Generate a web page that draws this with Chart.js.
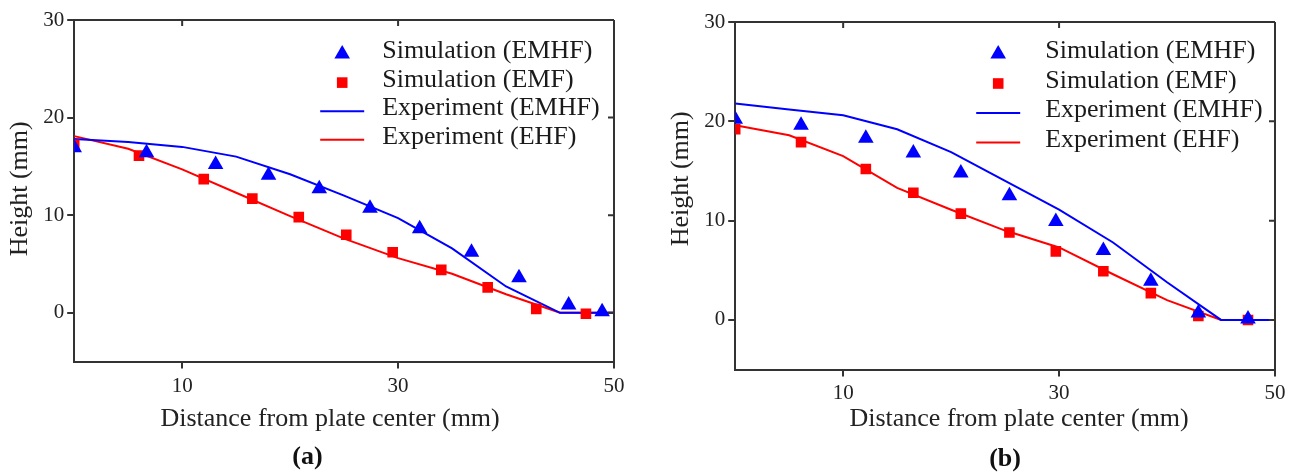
<!DOCTYPE html>
<html>
<head>
<meta charset="utf-8">
<script src="https://cdn.jsdelivr.net/npm/chart.js@4/dist/chart.umd.min.js"></script>
<style>
  body { margin: 0; background: #fff; }
  #boxA { position: absolute; left: 0; top: 0; width: 650px; height: 475px; }
  #boxB { position: absolute; left: 650px; top: 0; width: 649px; height: 475px; }
</style>
</head>
<body>
<div id="boxA"><canvas id="chartA" width="650" height="475"></canvas></div>
<div id="boxB"><canvas id="chartB" width="649" height="475"></canvas></div>
<script>
// tick labels
const xTicks = [10, 30, 50];
const yTicks = [0, 10, 20, 30];

// axis titles and legend labels
const xTitle = 'Distance from plate center (mm)';
const yTitle = 'Height (mm)';
const labels = ['Simulation (EMHF)', 'Simulation (EMF)', 'Experiment (EMHF)', 'Experiment (EHF)'];

// panel (a)
const simA_EMHF_x = [0, 6.7, 13.1, 18.0, 22.7, 27.4, 32.0, 36.8, 41.2, 45.8, 48.9];
const simA_EMHF_y = [16.9, 16.4, 15.2, 14.1, 12.7, 10.7, 8.6, 6.2, 3.6, 0.8, 0.1];
const simA_EMF_x = [0, 6.0, 12.0, 16.5, 20.8, 25.2, 29.5, 34.0, 38.3, 42.8, 47.4];
const simA_EMF_y = [17.2, 16.1, 13.7, 11.7, 9.8, 8.0, 6.2, 4.4, 2.6, 0.4, -0.1];
const expX = [0, 5, 10, 15, 20, 25, 30, 35, 40, 45, 50];
const expA_EMHF = [17.8, 17.5, 17.0, 16.0, 14.2, 12.0, 9.7, 6.6, 2.7, 0, 0];
const expA_EHF = [18.1, 16.8, 14.7, 12.3, 9.9, 7.6, 5.6, 4.0, 1.9, 0, 0];

// panel (b)
const simB_x = [0, 6.1, 12.1, 16.5, 20.9, 25.4, 29.7, 34.1, 38.5, 42.9, 47.5];
const simB_EMHF_y = [20.2, 19.6, 18.3, 16.8, 14.8, 12.5, 9.9, 7.0, 3.9, 0.7, 0.1];
const simB_EMF_y = [19.2, 17.9, 15.2, 12.8, 10.7, 8.8, 6.9, 4.9, 2.7, 0.4, 0];
const expB_EMHF = [21.8, 21.2, 20.6, 19.2, 16.9, 14.0, 11.1, 7.8, 3.8, 0, 0];
const expB_EHF = [19.6, 18.6, 16.5, 13.3, 11.1, 9.0, 7.3, 4.6, 2.0, 0, 0];

const pts = (xs, ys) => xs.map((x, i) => ({ x: x, y: ys[i] }));

const BLUE = '#0000ff';
const RED = '#ff0000';
const AXIS = '#333333';
const FONT = '"Liberation Serif", "Times New Roman", serif';

// box around the plot, inward mirror ticks, axis titles and legend inside the plot
const framePlugin = {
  id: 'frame',
  afterDatasetsDraw(chart, args, opts) {
    const { ctx, chartArea: a, scales } = chart;
    ctx.save();
    ctx.strokeStyle = AXIS;
    ctx.lineWidth = 2;
    ctx.beginPath();
    ctx.moveTo(a.left, a.top); ctx.lineTo(a.right, a.top);
    ctx.moveTo(a.right, a.top); ctx.lineTo(a.right, a.bottom);
    xTicks.forEach(v => {
      const px = scales.x.getPixelForValue(v);
      ctx.moveTo(px, a.top); ctx.lineTo(px, a.top + 6);
    });
    yTicks.forEach(v => {
      const py = scales.y.getPixelForValue(v);
      ctx.moveTo(a.right, py); ctx.lineTo(a.right - 6, py);
    });
    ctx.stroke();

    // axis titles (space is reserved by the scales, text placed here with a small offset)
    ctx.fillStyle = '#222';
    ctx.font = '26px ' + FONT;
    ctx.textAlign = 'center';
    ctx.textBaseline = 'middle';
    const lh = 26 * 1.2;
    const xs = scales.x;
    const xTitleY = xs.bottom - xs.options.title.padding.bottom - lh / 2;
    ctx.fillText(xTitle, (a.left + a.right) / 2 + opts.xOff, xTitleY);
    const ys = scales.y;
    const yTitleX = ys.left + ys.options.title.padding.top + lh / 2;
    ctx.save();
    ctx.translate(yTitleX, (a.top + a.bottom) / 2 + opts.yOff);
    ctx.rotate(-Math.PI / 2);
    ctx.fillText(yTitle, 0, 0);
    ctx.restore();

    // legend
    const L = opts.legend;
    const mx = a.left + L.marker;
    const tx = a.left + L.text;
    ctx.font = '26px ' + FONT;
    ctx.textBaseline = 'alphabetic';
    ctx.textAlign = 'left';
    chart.data.datasets.forEach((ds, i) => {
      const base = a.top + L.first + i * L.step;
      const my = base - 4;
      ctx.fillStyle = ds.borderColor;
      ctx.strokeStyle = ds.borderColor;
      if (ds.showLine) {
        ctx.lineWidth = 2;
        ctx.beginPath();
        ctx.moveTo(mx - 22, my); ctx.lineTo(mx + 22, my);
        ctx.stroke();
      } else if (ds.pointStyle === 'triangle') {
        const r = ds.pointRadius;
        ctx.beginPath();
        ctx.moveTo(mx, my - r);
        ctx.lineTo(mx + r * 0.866, my + r / 2);
        ctx.lineTo(mx - r * 0.866, my + r / 2);
        ctx.closePath();
        ctx.fill();
      } else {
        const s = ds.pointRadius * Math.SQRT1_2;
        ctx.fillRect(mx - s, my - s, 2 * s, 2 * s);
      }
      ctx.fillStyle = '#1a1a1a';
      ctx.fillText(ds.label, tx, base);
    });
    ctx.restore();
  }
};

function makeChart(id, d, lay) {
  return new Chart(document.getElementById(id), {
    type: 'scatter',
    data: {
      datasets: [
        { label: labels[0], data: d.simEMHF, pointStyle: 'triangle', pointRadius: 9,
          backgroundColor: BLUE, borderColor: BLUE, borderWidth: 0, showLine: false },
        { label: labels[1], data: d.simEMF, pointStyle: 'rect', pointRadius: 7.5,
          backgroundColor: RED, borderColor: RED, borderWidth: 0, showLine: false },
        { label: labels[2], data: d.expEMHF, showLine: true, pointRadius: 0,
          borderColor: BLUE, backgroundColor: BLUE, borderWidth: 2, tension: 0 },
        { label: labels[3], data: d.expEHF, showLine: true, pointRadius: 0,
          borderColor: RED, backgroundColor: RED, borderWidth: 2, tension: 0 }
      ]
    },
    options: {
      responsive: false,
      animation: false,
      events: [],
      layout: { padding: lay.padding },
      plugins: {
        legend: { display: false },
        tooltip: { enabled: false },
        title: {
          display: true,
          text: lay.tag,
          position: 'bottom',
          fullSize: lay.fullSize,
          color: '#111',
          font: { family: FONT, size: 26, weight: 'bold' },
          padding: lay.tagPad
        },
        frame: { legend: lay.legend, xOff: lay.xOff, yOff: lay.yOff }
      },
      scales: {
        x: {
          type: 'linear', min: 0, max: 50,
          afterBuildTicks: s => { s.ticks = xTicks.map(v => ({ value: v })); },
          grid: { drawOnChartArea: false, drawTicks: true, tickLength: 7, color: AXIS, lineWidth: 2 },
          border: { display: true, color: AXIS, width: 2 },
          ticks: { color: '#222', padding: lay.xTickPad, maxRotation: 0,
                   font: { family: FONT, size: 21, lineHeight: 1 } },
          title: { display: true, text: '', font: { family: FONT, size: 26 }, padding: lay.xTitlePad }
        },
        y: {
          type: 'linear', min: -5, max: 30,
          afterBuildTicks: s => { s.ticks = yTicks.map(v => ({ value: v })); },
          grid: { drawOnChartArea: false, drawTicks: true, tickLength: 7, color: AXIS, lineWidth: 2 },
          border: { display: true, color: AXIS, width: 2 },
          ticks: { color: '#222', padding: 3, font: { family: FONT, size: 21 } },
          title: { display: true, text: '', font: { family: FONT, size: 26 }, padding: { top: 4, bottom: 4 } }
        }
      }
    },
    plugins: [framePlugin]
  });
}

makeChart('chartA', {
  simEMHF: pts(simA_EMHF_x, simA_EMHF_y),
  simEMF: pts(simA_EMF_x, simA_EMF_y),
  expEMHF: pts(expX, expA_EMHF),
  expEHF: pts(expX, expA_EHF)
}, {
  tag: '(a)',
  fullSize: true,
  padding: { left: 1, right: 36, top: 20, bottom: 2 },
  tagPad: { top: 7, bottom: 0 },
  xTickPad: 7,
  xTitlePad: { top: 0, bottom: 0 },
  xOff: -14,
  yOff: -2,
  legend: { marker: 268, text: 308, first: 38, step: 28.6 }
});

makeChart('chartB', {
  simEMHF: pts(simB_x, simB_EMHF_y),
  simEMF: pts(simB_x, simB_EMF_y),
  expEMHF: pts(expX, expB_EMHF),
  expEHF: pts(expX, expB_EHF)
}, {
  tag: '(b)',
  fullSize: false,
  padding: { left: 12, right: 24, top: 22, bottom: 0 },
  tagPad: { top: 9, bottom: 0 },
  xTickPad: 6,
  xTitlePad: { top: -6, bottom: 0 },
  xOff: 14,
  yOff: -17,
  legend: { marker: 263, text: 310, first: 36, step: 29.5 }
});
</script>
</body>
</html>
